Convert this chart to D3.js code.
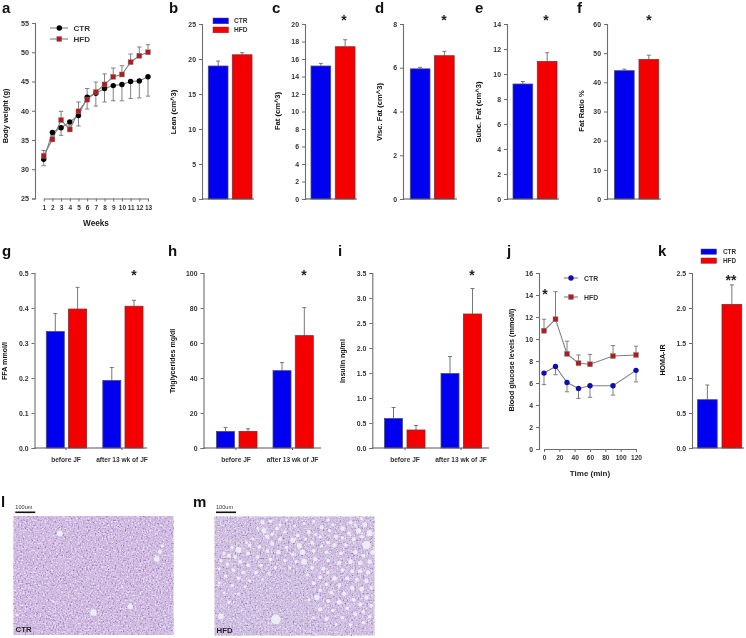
<!DOCTYPE html>
<html><head><meta charset="utf-8">
<script src="https://cdnjs.cloudflare.com/ajax/libs/d3/7.8.5/d3.min.js"></script>
<style>html,body{margin:0;padding:0;background:#fff}svg{display:block;filter:blur(0.4px)}text{font-family:"Liberation Sans",Arial,sans-serif;font-weight:bold;fill:#222}</style>
</head><body><svg id="c" width="746" height="638"></svg>
<script>
// ---- data ----
const groups = ["CTR","HFD"];
const weeks = [1,2,3,4,5,6,7,8,9,10,11,12,13];
const bodyCtr = [31.7,36.3,37.1,38.1,39.2,42.3,43.0,43.8,44.3,44.5,45.0,45.1,45.8];
const bodyCtrErr = [1.1,0.5,1.3,0.5,1.8,2.0,2.2,2.3,2.6,2.8,2.9,2.9,3.3];
const bodyHfd = [32.3,35.1,38.4,36.8,39.9,41.9,43.2,44.5,45.8,46.2,48.3,49.4,50.0];
const bodyHfdErr = [0.9,0.5,1.5,0.6,1.6,1.9,1.7,1.8,1.5,1.5,1.4,1.5,1.3];
const leanVals=[19.0,20.6], leanErr=[0.7,0.3];
const fatVals=[15.2,17.4], fatErr=[0.3,0.8];
const viscVals=[5.95,6.55], viscErr=[0.07,0.2];
const subcVals=[9.2,11.0], subcErr=[0.2,0.7];
const ratioVals=[44.0,47.8], ratioErr=[0.5,1.5];
const ffaVals=[0.333,0.397,0.193,0.405], ffaErr=[0.051,0.062,0.037,0.017];
const tgVals=[9.5,9.5,44.2,64.2], tgErr=[2.2,1.5,4.6,16];
const insVals=[0.59,0.36,1.49,2.68], insErr=[0.22,0.09,0.34,0.51];
const homaVals=[0.69,2.05], homaErr=[0.21,0.28];
const times=[0,15,30,45,60,90,120];
const gluCtr=[6.9,7.5,6.05,5.5,5.75,5.75,7.15], gluCtrErr=[1.05,0.75,0.85,0.9,1.05,0.85,1.05];
const gluHfd=[10.75,11.8,8.65,7.8,7.7,8.45,8.55], gluHfdErr=[1.05,2.5,1.15,0.75,0.9,0.95,0.8];
const periods=["before JF","after 13 wk of JF"];
// vacuoles in panel m, as [x,y,r] in image-fraction units, estimated by eye
const vacuoles=[[.31,.12,.016],[.3,.05,.013],[.33,.17,.014],[.39,.1,.012],[.49,.2,.016],[.53,.245,.016],[.52,.16,.012],[.59,.13,.012],[.55,.3,.017],[.61,.22,.012],[.66,.17,.011],[.71,.22,.012],[.76,.17,.012],[.8,.1,.014],[.85,.05,.013],[.9,.12,.016],[.94,.07,.015],[.97,.14,.019],[.95,.24,.026],[.99,.3,.016],[.88,.3,.013],[.56,.38,.018],[.22,.24,.012],[.15,.28,.018],[.28,.255,.012],[.09,.33,.013],[.16,.38,.013],[.85,.38,.015],[.91,.46,.013],[.75,.52,.015],[.64,.68,.016],[.78,.72,.015],[.87,.7,.013],[.66,.78,.013],[.7,.86,.013],[.93,.8,.011],[.383,.864,.03],[.04,.84,.018],
[.35,.04,.011],[.45,.03,.009],[.62,.04,.01],[.71,.03,.011],[.92,.02,.01],[.41,.07,.01],[.5,.08,.009],[.56,.06,.01],[.67,.09,.012],[.74,.07,.01],[.88,.07,.01],[.27,.1,.009],[.44,.13,.01],[.72,.12,.011],[.84,.14,.012],[.36,.15,.011],[.63,.15,.009],[.8,.18,.01],[.87,.19,.013],[.92,.17,.011],[.24,.19,.01],[.41,.19,.012],[.57,.19,.01],[.75,.24,.013],[.82,.24,.011],[.67,.25,.01],[.36,.23,.012],[.45,.26,.011],[.2,.22,.009],[.11,.26,.011],[.33,.29,.012],[.4,.3,.013],[.49,.32,.011],[.62,.29,.012],[.7,.3,.011],[.79,.31,.012],[.93,.33,.012],[.97,.38,.014],[.06,.31,.01],[.21,.31,.012],[.27,.34,.011],[.13,.34,.012],[.04,.37,.01],[.35,.36,.012],[.44,.37,.011],[.51,.38,.01],[.63,.36,.013],[.71,.37,.011],[.78,.39,.013],[.91,.39,.014],[.08,.4,.012],[.21,.41,.012],[.29,.41,.011],[.38,.43,.01],[.47,.43,.009],[.61,.43,.012],[.68,.44,.013],[.8,.45,.012],[.86,.46,.012],[.96,.47,.014],[.03,.44,.01],[.12,.45,.012],[.18,.47,.011],[.26,.47,.012],[.34,.48,.009],[.58,.49,.01],[.66,.51,.012],[.71,.47,.01],[.83,.52,.013],[.89,.53,.012],[.95,.54,.014],[.07,.5,.011],[.15,.52,.011],[.22,.54,.01],[.3,.53,.008],[.62,.56,.012],[.7,.57,.012],[.78,.58,.012],[.86,.6,.013],[.92,.61,.015],[.98,.6,.012],[.03,.56,.009],[.11,.58,.011],[.19,.59,.009],[.66,.62,.011],[.73,.64,.012],[.81,.65,.013],[.95,.68,.014],[.06,.64,.009],[.15,.65,.009],[.59,.7,.009],[.71,.71,.012],[.83,.77,.012],[.91,.74,.013],[.98,.75,.012],[.09,.72,.009],[.74,.79,.011],[.88,.82,.012],[.97,.84,.011],[.8,.85,.011],[.76,.91,.009],[.85,.91,.01],[.93,.89,.01],[.62,.85,.008],[.17,.79,.007]];
const ctrHoles=[[.29,.147,.018],[.93,.25,.01],[.915,.3,.013],[.895,.36,.018],[.73,.76,.016],[.5,.81,.02],[.02,.83,.01],[.25,.72,.007],[.68,.6,.007]];

const svg=d3.select("#c"), defs=svg.append("defs");
const BLUE="#0000f0", RED="#f40000", GREY="#6e6e6e";

function yAxis(g,x,scale,ticks,fmt,size){
  const ax=d3.axisLeft(scale).tickValues(ticks).tickFormat(fmt).tickSize(3).tickPadding(3);
  const s=g.append("g").attr("transform",`translate(${x},0)`).call(ax);
  style(s,size);
}
function style(s,size){
  s.selectAll("path.domain").attr("stroke",GREY).attr("stroke-width",1.1).attr("fill","none");
  s.selectAll("line").attr("stroke",GREY).attr("stroke-width",1);
  s.selectAll("text").style("font-size",(size||6.9)+"px").style("fill","#333").style("font-family",'"Liberation Sans",Arial,sans-serif').style("font-weight","bold");
}
function label(t,x,y,size,anchor,rot){
  const e=svg.append("text").text(t).attr("text-anchor",anchor||"middle").style("font-size",size+"px");
  if(rot) e.attr("transform",`translate(${x},${y}) rotate(-90)`); else e.attr("x",x).attr("y",y);
  return e;
}
function ylab(t,x,y,size){label(t,x,y,size||7.6,"middle",true).attr("dominant-baseline","central").style("fill","#111");}
function star(t,x,y){svg.append("text").text(t).attr("x",x).attr("y",y+6.5).attr("text-anchor","middle").style("font-size","14px").style("fill","#222");}
function letter(t,x,y){svg.append("text").text(t).attr("x",x).attr("y",y).style("font-size","15px").style("fill","#111");}

function barPanel(cfg){
  const g=svg.append("g");
  const y=d3.scaleLinear().domain([0,cfg.max]).range([cfg.y0,cfg.y1]);
  const left=i=>cfg.lefts[i];
  const w=cfg.w;
  g.selectAll("line.e").data(cfg.vals).join("line").attr("x1",(d,i)=>left(i)+w/2).attr("x2",(d,i)=>left(i)+w/2)
    .attr("y1",d=>y(d)).attr("y2",(d,i)=>y(d+cfg.err[i])).attr("stroke","#777").attr("stroke-width",1);
  g.selectAll("line.c").data(cfg.vals).join("line").attr("x1",(d,i)=>left(i)+w/2-2).attr("x2",(d,i)=>left(i)+w/2+2)
    .attr("y1",(d,i)=>y(d+cfg.err[i])).attr("y2",(d,i)=>y(d+cfg.err[i])).attr("stroke","#777").attr("stroke-width",1);
  g.selectAll("rect").data(cfg.vals).join("rect").attr("x",(d,i)=>left(i)).attr("width",w)
    .attr("y",d=>y(d)).attr("height",d=>cfg.y0-y(d))
    .attr("fill",(d,i)=>i%2?RED:BLUE).attr("stroke",(d,i)=>i%2?"#8a2a2a":"#4a4a80").attr("stroke-width",0.8);
  yAxis(g,cfg.ax,y,cfg.ticks,cfg.fmt||(d=>d));
  g.append("line").attr("x1",cfg.ax).attr("x2",cfg.xEnd).attr("y1",cfg.y0).attr("y2",cfg.y0).attr("stroke","#555").attr("stroke-width",1.1);
  if(cfg.groupTicks){
    cfg.groupTicks.forEach((c,i)=>{
      g.append("line").attr("x1",c).attr("x2",c).attr("y1",cfg.y0).attr("y2",cfg.y0+2).attr("stroke","#555");
      label(periods[i],c,cfg.y0+13.5,6.6,"middle").style("fill","#333");
    });
  }
}
const y25=[0,5,10,15,20,25];
const topB={y0:199,y1:24};
barPanel({...topB,vals:leanVals,err:leanErr,max:25,ticks:y25,ax:202,lefts:[208.3,232.3],w:19.7,xEnd:254});
barPanel({...topB,vals:fatVals,err:fatErr,max:20,ticks:d3.range(0,21,2),ax:305,lefts:[311,335.3],w:19.7,xEnd:357});
barPanel({...topB,vals:viscVals,err:viscErr,max:8,ticks:[0,2,4,6,8],ax:403,lefts:[410.3,434.5],w:19.7,xEnd:457});
barPanel({...topB,vals:subcVals,err:subcErr,max:14,ticks:d3.range(0,15,2),ax:507,lefts:[513,537.3],w:19.7,xEnd:559});
barPanel({...topB,vals:ratioVals,err:ratioErr,max:60,ticks:d3.range(0,61,10),ax:607,lefts:[614.5,639],w:19.7,xEnd:661});
const botB={y0:448,y1:273};
barPanel({...botB,vals:ffaVals,err:ffaErr,max:.5,ticks:[0,.1,.2,.3,.4,.5],fmt:d3.format(".1f"),ax:34.5,lefts:[46.3,68.6,102.8,125],w:18,xEnd:147,groupTicks:[66,122]});
barPanel({...botB,vals:tgVals,err:tgErr,max:100,ticks:d3.range(0,101,20),ax:203.5,lefts:[216.5,239,273,295.3],w:18,xEnd:321,groupTicks:[236,292.5]});
barPanel({...botB,vals:insVals,err:insErr,max:3.5,ticks:d3.range(0,3.51,.5),fmt:d3.format(".1f"),ax:372.3,lefts:[384.5,407,441,463.5],w:18,xEnd:489,groupTicks:[405,461]});
barPanel({...botB,vals:homaVals,err:homaErr,max:2.5,ticks:[0,.5,1,1.5,2,2.5],fmt:d3.format(".1f"),ax:692,lefts:[697.5,722],w:19.7,xEnd:744});

function linePanel(cfg){
  const g=svg.append("g");
  const {x,y}=cfg;
  cfg.series.forEach(s=>{
    s.vals.forEach((v,i)=>{
      const e=v+s.dir*s.err[i];
      g.append("line").attr("x1",x(cfg.xs[i])).attr("x2",x(cfg.xs[i])).attr("y1",y(v)).attr("y2",y(e)).attr("stroke","#808080").attr("stroke-width",1);
      g.append("line").attr("x1",x(cfg.xs[i])-2.2).attr("x2",x(cfg.xs[i])+2.2).attr("y1",y(e)).attr("y2",y(e)).attr("stroke","#808080").attr("stroke-width",1);
    });
  });
  const ln=d3.line().x((d,i)=>x(cfg.xs[i])).y(d=>y(d));
  cfg.series.forEach(s=>g.append("path").attr("d",ln(s.vals)).attr("fill","none").attr("stroke","#808080").attr("stroke-width",1.1));
  cfg.series.forEach(s=>marker(g,s.vals.map((v,i)=>[x(cfg.xs[i]),y(v)]),s.shape,s.color));
}
function marker(g,pts,shape,color){
  pts.forEach(p=>{
    if(shape=="circle") g.append("circle").attr("cx",p[0]).attr("cy",p[1]).attr("r",2.7).attr("fill",color);
    else g.append("rect").attr("x",p[0]-2.5).attr("y",p[1]-2.5).attr("width",5).attr("height",5).attr("fill",color).attr("stroke","#888").attr("stroke-width",.4);
  });
}
// panel a
{
  const x=d3.scaleLinear().domain([1,13]).range([43.7,148]), y=d3.scaleLinear().domain([25,55]).range([198.5,23]);
  linePanel({x,y,xs:weeks,series:[
    {vals:bodyCtr,err:bodyCtrErr,dir:-1,shape:"circle",color:"#000"},
    {vals:bodyHfd,err:bodyHfdErr,dir:1,shape:"rect",color:"#b01c20"}]});
  yAxis(svg.append("g"),35,y,[25,30,35,40,45,50,55],d=>d,7.2);
  const b=svg.append("g").attr("transform","translate(0,198.5)").call(d3.axisBottom(x).tickValues(weeks).tickSizeInner(3).tickSizeOuter(0).tickPadding(4).tickFormat(d=>d));
  style(b,6.5);
  ["CTR","HFD"].forEach((t,i)=>{
    const ly=28+i*11;
    svg.append("line").attr("x1",50).attr("x2",68).attr("y1",ly).attr("y2",ly).attr("stroke","#808080").attr("stroke-width",1.1);
    marker(svg,[[59.3,ly]],i?"rect":"circle",i?"#b01c20":"#000");
    label(t,73.5,ly+3,8,"start").style("fill","#333");
  });
}
// panel j
{
  const x=d3.scaleLinear().domain([0,120]).range([544,636]), y=d3.scaleLinear().domain([0,16]).range([449,273]);
  linePanel({x,y,xs:times,series:[
    {vals:gluCtr,err:gluCtrErr,dir:-1,shape:"circle",color:"#0f0fb0"},
    {vals:gluHfd,err:gluHfdErr,dir:1,shape:"rect",color:"#b01c20"}]});
  yAxis(svg.append("g"),539,y,d3.range(0,17,2),d=>d,6.9);
  const b=svg.append("g").attr("transform","translate(0,449)").call(d3.axisBottom(x).tickValues([0,20,40,60,80,100,120]).tickSizeInner(3).tickSizeOuter(0).tickPadding(3).tickFormat(d=>d));
  style(b,6.6);
  [278,297].forEach((ly,i)=>{
    svg.append("line").attr("x1",564).attr("x2",578).attr("y1",ly).attr("y2",ly).attr("stroke","#808080").attr("stroke-width",1.1);
    marker(svg,[[571,ly]],i?"rect":"circle",i?"#b01c20":"#0f0fb0");
    label(groups[i],584,ly+2.5,6.9,"start").style("fill","#333");
  });
}
// legends
function barLegend(rx,rw,ys,rh,tx,size){
  groups.forEach((t,i)=>{
    svg.append("rect").attr("x",rx).attr("y",ys[i]).attr("width",rw).attr("height",rh).attr("fill",i?RED:BLUE).attr("stroke",i?"#8a2a2a":"#4a4a80").attr("stroke-width",.5);
    label(t,tx,ys[i]+rh/2+2.4,size,"start").style("fill","#333");
  });
}
barLegend(213,15.5,[18,27],5.8,234,6.6);
barLegend(701,15.5,[249,258],5.3,723,6.4);

// labels
label("Weeks",96,226,8.2);
label("Time (min)",590,476,8);
ylab("Body weight (g)",5,116,7.3);
ylab("Lean (cm^3)",173,112);ylab("Fat (cm^3)",277,111);ylab("Visc. Fat (cm^3)",379,112);ylab("Subc. Fat (cm^3)",478,112);ylab("Fat Ratio %",581,111);
ylab("FFA mmol/l",5,361,7.1);ylab("Triglycerides mg/dl",173,361,7.1);ylab("Insulin ng/ml",343,361,7.1);ylab("Blood glucose levels (mmol/l)",511,360,7.3);ylab("HOMA-IR",663,360,7.1);
[["*",344,18],["*",444,18],["*",546,18],["*",649,18],["*",134,273],["*",304,273],["*",472,273],["*",545,292],["**",731,278]].forEach(s=>star(...s));
[["a",2,13],["b",169,13],["c",272,13],["d",375,13],["e",475,13],["f",577,13],["g",2,256],["h",168,256],["i",338,256],["j",507,256],["k",658,256],["l",1,507],["m",193,507]].forEach(s=>letter(...s));

// micrographs
function texture(id,seed,dark){
  const f=defs.append("filter").attr("id",id).attr("x",0).attr("y",0).attr("width","100%").attr("height","100%").attr("color-interpolation-filters","sRGB");
  f.append("feTurbulence").attr("type","fractalNoise").attr("baseFrequency",.6).attr("numOctaves",2).attr("seed",seed).attr("result","n");
  f.append("feColorMatrix").attr("in","n").attr("type","matrix")
    .attr("values",`0 0 0 0 ${dark[0]}  0 0 0 0 ${dark[1]}  0 0 0 0 ${dark[2]}  2.2 0 0 0 -1.15`).attr("result","d");
  f.append("feColorMatrix").attr("in","n").attr("type","matrix")
    .attr("values","0 0 0 0 .93  0 0 0 0 .91  0 0 0 0 .97  0 2.8 0 0 -1.3").attr("result","l");
  f.append("feGaussianBlur").attr("in","d").attr("stdDeviation",.45).attr("result","db");
  f.append("feGaussianBlur").attr("in","l").attr("stdDeviation",.45).attr("result","lb");
  f.append("feMerge").call(m=>{m.append("feMergeNode").attr("in","SourceGraphic");m.append("feMergeNode").attr("in","db");m.append("feMergeNode").attr("in","lb");});
}
texture("t1",3,[.5,.34,.66]);
texture("t2",8,[.5,.36,.66]);
function micro(x0,y0,w,h,holes,tid,bg,capt,hx){
  const g=svg.append("g");
  const sx=d3.scaleLinear().range([x0,x0+w]), sy=d3.scaleLinear().range([y0,y0+h]);
  g.append("g").attr("filter",`url(#${tid})`).append("rect").attr("x",x0).attr("y",y0).attr("width",w).attr("height",h).attr("fill",bg);
  g.append("g").selectAll("circle").data(holes).join("circle").attr("cx",d=>sx(d[0])).attr("cy",d=>sy(d[1])).attr("r",d=>d[2]*w).attr("fill","#eef0f6").attr("fill-opacity",.95);
  label(capt,x0+2,y0+h-3,7.8,"start").style("fill","#222");
  g.append("rect").attr("x",hx).attr("y",511.5).attr("width",20).attr("height",1.6).attr("fill","#111");
  label("100um",hx,509,5.6,"start").style("font-weight","normal").style("fill","#333");
}
micro(13.5,516,160,119,ctrHoles,"t1","#cfb8e0","CTR",15.3);
micro(214.5,516.5,160,119,vacuoles,"t2","#cfbde0","HFD",216);
</script></body></html>
